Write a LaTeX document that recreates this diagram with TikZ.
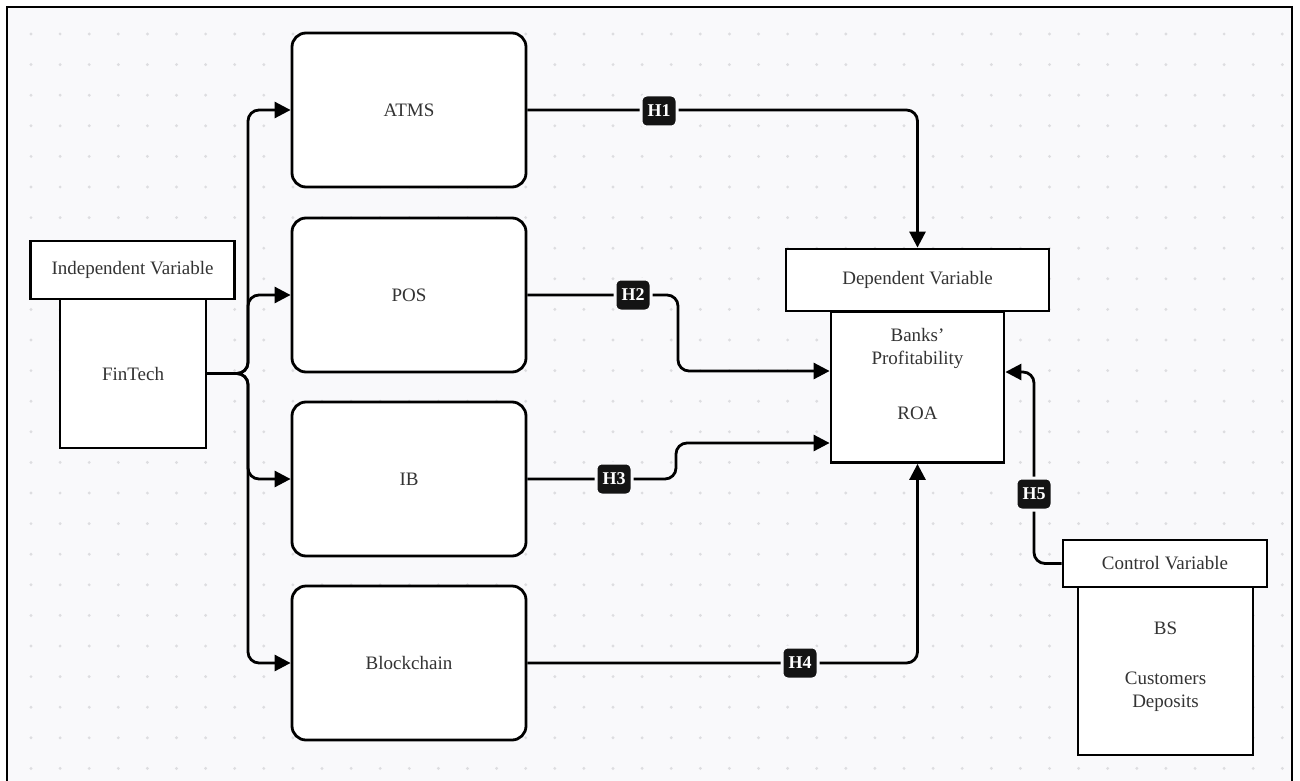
\documentclass[tikz,border=0pt]{standalone}
\usepackage{fontspec}
\setmainfont{Liberation Serif}
\usetikzlibrary{arrows.meta,calc}
\definecolor{bgc}{HTML}{F9F9FB}
\definecolor{dotc}{HTML}{DDDDE0}
\definecolor{txt}{HTML}{333333}
\begin{document}
\begin{tikzpicture}[x=1pt,y=-1pt,
  txtfont/.style={text=txt,font=\fontsize{19}{23}\selectfont},
  rbox/.style={draw=black,line width=2.8pt,fill=white,rounded corners=14pt,
    minimum width=234pt,minimum height=154pt,inner sep=0pt,txtfont},
  sqbox/.style={draw=black,line width=2.8pt,fill=white,inner sep=0pt,txtfont},
  conn/.style={line width=2.8pt,rounded corners=11pt,-{Triangle[length=16pt,width=16pt]}},
  plain/.style={inner sep=0pt,txtfont,align=center},
  hlabel/.style={fill=black!92,text=white,rounded corners=6pt,minimum width=36pt,
    minimum height=32pt,inner sep=0pt,draw=bgc,line width=3pt,
    font=\fontsize{18}{18}\selectfont\bfseries}
]
\useasboundingbox (0,0) rectangle (1300,781);
\fill[white] (0,0) rectangle (1300,781);
\fill[bgc] (7,7) rectangle (1292,781);
\foreach \i in {0,...,43} \foreach \j in {0,...,24}
  \fill[dotc] ({31+29.1*\i},{34+30.6*\j}) circle (1.6);
\draw[line width=2pt] (7,783) -- (7,7) -- (1292,7) -- (1292,783);

% middle boxes
\node[rbox] (atms) at (409,110) {ATMS};
\node[rbox] (pos) at (409,295) {POS};
\node[rbox] (ib) at (409,479) {IB};
\node[rbox] (blk) at (409,663) {Blockchain};

% independent
\node[sqbox,minimum width=146pt,minimum height=149pt] (fin) at (133,373.5) {FinTech};
\node[sqbox,minimum width=204pt,minimum height=58pt] (indhead) at (132.5,270) {Independent Variable};

% dependent
\node[sqbox,minimum width=173pt,minimum height=151pt] (depbody) at (917.5,387) {};
\node[sqbox,minimum width=263pt,minimum height=62pt] (dephead) at (917.5,280) {Dependent Variable};
\node[plain] (banks) at (917.5,348.5) {Banks’\\Profitability};
\node[plain] (roa) at (917.5,413) {ROA};

% control
\node[sqbox,minimum width=175pt,minimum height=168pt] (ctrlbody) at (1165.5,671) {};
\node[sqbox,minimum width=204pt,minimum height=47pt] (ctrlhead) at (1165,563.5) {Control Variable};
\node[plain] (bs) at (1165.5,628) {BS};
\node[plain] (cd) at (1165.5,691.5) {Customers\\Deposits};

% FinTech connectors
\coordinate (trunk) at (248,0);
\draw[conn] (fin.east) -- (fin.east -| trunk) |- (atms.west);
\draw[conn] (fin.east) -- (fin.east -| trunk) |- (pos.west);
\draw[conn] (fin.east) -- (fin.east -| trunk) |- (ib.west);
\draw[conn] (fin.east) -- (fin.east -| trunk) |- (blk.west);

% hypotheses
\draw[conn] (atms.east) -| (dephead.north);
\coordinate (h2t) at (678,371);
\draw[conn] (pos.east) -| (h2t) -- (h2t -| depbody.west);
\coordinate (h3t) at (676,443);
\draw[conn] (ib.east) -| (h3t) -- (h3t -| depbody.west);
\draw[conn] (blk.east) -| (depbody.south);
\coordinate (h5t) at (1034,372);
\draw[conn] (ctrlhead.west) -| (h5t) -- (h5t -| depbody.east);

\node[hlabel] (h1) at (659,111) {H1};
\node[hlabel] (h2) at (633,295) {H2};
\node[hlabel] (h3) at (614,479) {H3};
\node[hlabel] (h4) at (800,663) {H4};
\node[hlabel] (h5) at (1034,494) {H5};
\end{tikzpicture}
\end{document}
